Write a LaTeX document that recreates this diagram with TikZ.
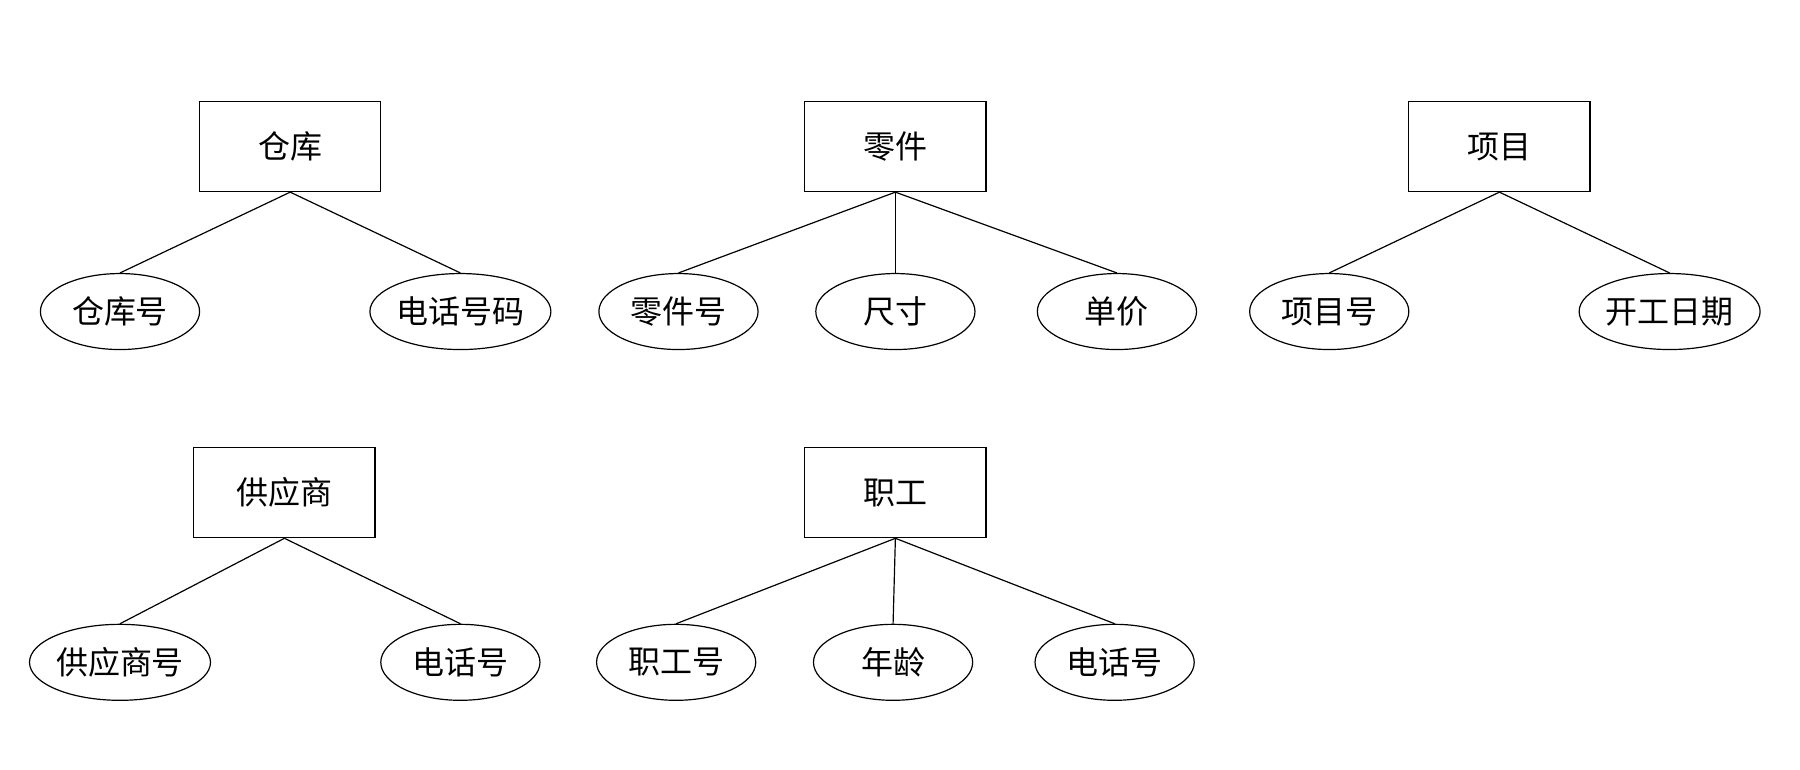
\documentclass[tikz,border=0pt]{standalone}
\usepackage{fontspec}
\setmainfont{Noto Sans CJK SC}
\usetikzlibrary{shapes.geometric, positioning}

\begin{document}
\begin{tikzpicture}[x=0.577pt, y=-0.577pt,
    entity/.style={rectangle, draw, line width=0.6pt, minimum width=90.6pt, minimum height=45pt,
                   font=\fontsize{16}{18}\selectfont, inner sep=0pt},
    attr/.style={ellipse, draw, line width=0.6pt, minimum width=79.6pt, minimum height=38pt,
                 font=\fontsize{16}{18}\selectfont, inner sep=0pt},
    link/.style={line width=0.6pt}
]
    \useasboundingbox (0,0) rectangle (1560,667);

    % Entities
    \node[entity] (store) at (251.5,127) {仓库};
    \node[entity] (part) at (776,127) {零件};
    \node[entity] (proj) at (1299.5,127) {项目};
    \node[entity] (supp) at (246.5,427) {供应商};
    \node[entity] (staff) at (776,427) {职工};

    % Attributes
    \node[attr] (storeno) at (104,270) {仓库号};
    \node[attr] (storetel) at (399,270) {电话号码};
    \node[attr] (partno) at (588,270) {零件号};
    \node[attr] (size) at (776,270) {尺寸};
    \node[attr] (price) at (968,270) {单价};
    \node[attr] (projno) at (1152,270) {项目号};
    \node[attr] (start) at (1447,270) {开工日期};
    \node[attr] (suppno) at (104,574) {供应商号};
    \node[attr] (supptel) at (399,574) {电话号};
    \node[attr] (staffno) at (586,574) {职工号};
    \node[attr] (age) at (774,574) {年龄};
    \node[attr] (stafftel) at (966,574) {电话号};

    % Links
    \foreach \e/\a in {store/storeno, store/storetel, part/partno, part/size, part/price,
                       proj/projno, proj/start, supp/suppno, supp/supptel,
                       staff/staffno, staff/age, staff/stafftel}
        \draw[link] (\e.south) -- (\a.north);
\end{tikzpicture}
\end{document}
